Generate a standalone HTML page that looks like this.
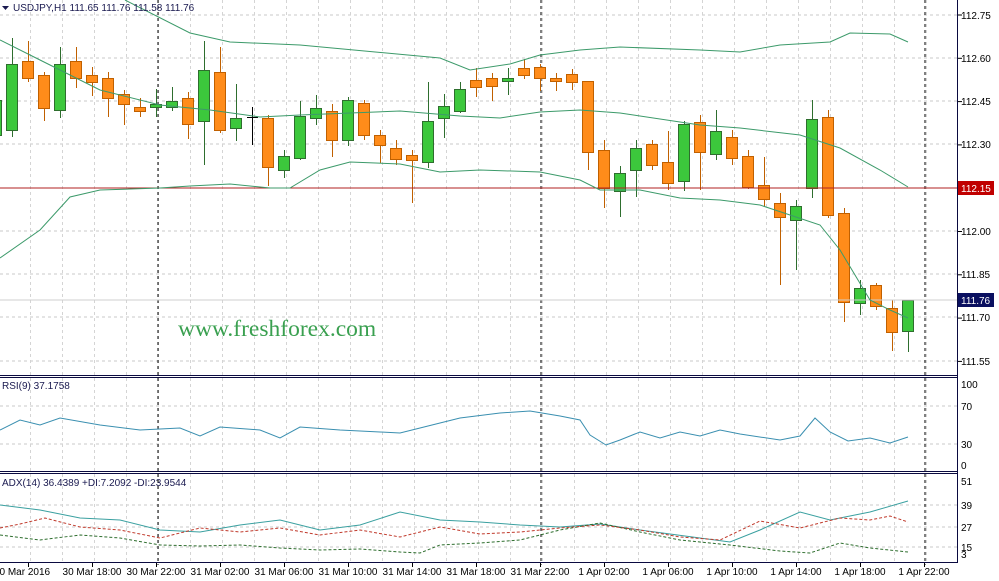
<!DOCTYPE html>
<html><head><meta charset="utf-8"><style>
html,body{margin:0;padding:0;background:#fff;}
svg{display:block;font-family:"Liberation Sans",sans-serif;font-size:10px;}
</style></head><body>
<svg id="s" width="999" height="581" viewBox="0 0 999 581">
<rect width="999" height="581" fill="#fff"/>
<g stroke="#c8c8c8" stroke-dasharray="3,3" stroke-width="1" id="grid">
<line x1="0" y1="58" x2="957" y2="58"/><line x1="0" y1="101" x2="957" y2="101"/><line x1="0" y1="144" x2="957" y2="144"/><line x1="0" y1="231" x2="957" y2="231"/><line x1="0" y1="274" x2="957" y2="274"/><line x1="0" y1="317" x2="957" y2="317"/><line x1="0" y1="361" x2="957" y2="361"/><line x1="0" y1="15" x2="957" y2="15"/>
<line x1="0" y1="406" x2="957" y2="406"/><line x1="0" y1="444" x2="957" y2="444"/>
<line x1="0" y1="505" x2="957" y2="505"/><line x1="0" y1="527" x2="957" y2="527"/><line x1="0" y1="547" x2="957" y2="547"/>
</g>
<g stroke="#d4d4d4" stroke-dasharray="3,3" stroke-width="1" id="vgrid"></g>
<g stroke="#000" stroke-dasharray="3,3" stroke-width="1">
<line x1="158" y1="0" x2="158" y2="565"/><line x1="541" y1="0" x2="541" y2="565"/><line x1="925" y1="0" x2="925" y2="565"/>
</g>
<g id="c"></g>
<line x1="0" y1="188" x2="957" y2="188" stroke="#b22222" stroke-width="1"/>
<line x1="0" y1="300" x2="957" y2="300" stroke="#cfcfcf" stroke-width="1"/>
<g fill="none" stroke="#3c9a6a" stroke-width="1">
<polyline points="125,0 190,33 230,42 300,45 440,58 470,70 510,64 540,55 580,50 620,47 700,50 740,52 780,45 830,42 850,33 890,34 908,42"/>
<polyline points="0,40 40,60 100,90 160,105 210,110 260,117 300,115 400,111 460,116 500,118 540,112 580,110 620,113 700,125 740,128 800,135 840,148 880,170 908,187"/>
<polyline points="0,258 40,230 70,197 100,190 160,188 190,186 230,184 270,188 290,188 320,170 350,162 400,164 440,172 480,170 540,172 580,180 600,190 640,190 680,198 720,200 760,205 790,215 820,225 840,250 870,300 890,310 908,318"/>
</g>
<text x="178" y="336" fill="#3aa050" font-family="Liberation Serif,serif" font-size="23.5">www.freshforex.com</text>
<polyline fill="none" stroke="#3a8fb0" stroke-width="1" points="0,430 20,420 40,425 60,418 100,425 140,430 180,428 200,436 220,427 260,430 280,438 300,427 340,430 380,432 400,433 420,428 460,418 500,413 530,411 560,416 580,420 590,435 606,445 620,440 640,432 660,438 680,432 700,436 720,430 740,434 780,440 800,436 815,418 830,432 848,441 870,438 890,443 908,437"/>
<polyline fill="none" stroke="#3aa0a0" stroke-width="1" points="0,505 40,510 80,518 120,520 160,530 200,532 240,525 280,520 320,530 360,525 400,512 440,520 480,522 520,525 560,527 600,524 640,530 700,538 730,542 760,530 800,512 830,520 870,512 908,501"/>
<polyline fill="none" stroke="#2e6e2e" stroke-dasharray="3,2" stroke-width="1" points="0,535 40,540 80,535 120,538 160,545 200,546 240,545 280,548 320,550 360,549 400,552 420,553 440,545 480,543 520,540 560,530 600,523 640,532 680,540 730,545 780,551 810,553 840,543 870,548 908,552"/>
<polyline fill="none" stroke="#c0392b" stroke-dasharray="3,2" stroke-width="1" points="0,528 20,524 45,518 80,527 120,530 160,538 200,528 240,532 280,528 320,535 360,530 400,537 440,527 480,534 520,532 560,528 600,525 640,530 680,537 720,540 760,521 800,528 840,518 870,520 890,516 908,522"/>
<g stroke="#0a0a40" stroke-width="1" fill="none">
<line x1="957.5" y1="0" x2="957.5" y2="563"/>
<line x1="0" y1="375.5" x2="957" y2="375.5"/><line x1="0" y1="377.5" x2="957" y2="377.5"/>
<line x1="0" y1="471.5" x2="957" y2="471.5"/><line x1="0" y1="473.5" x2="957" y2="473.5"/>
<line x1="0" y1="562.5" x2="957" y2="562.5"/>
</g>
<g stroke="#000" id="ticks"></g>
<rect x="958" y="181" width="36" height="14" fill="#c00000"/>
<rect x="958" y="293" width="36" height="14" fill="#0a1060"/>
<g fill="#000">
<text x="961" y="19">112.75</text><text x="961" y="62">112.60</text><text x="961" y="105">112.45</text><text x="961" y="148">112.30</text>
<text x="961" y="192" fill="#fff">112.15</text><text x="961" y="235">112.00</text><text x="961" y="278">111.85</text>
<text x="961" y="304" fill="#fff">111.76</text><text x="961" y="321">111.70</text><text x="961" y="365">111.55</text>
<text x="961" y="388">100</text><text x="961" y="410">70</text><text x="961" y="448">30</text><text x="961" y="469">0</text>
<text x="961" y="485">51</text><text x="961" y="509">39</text><text x="961" y="531">27</text><text x="961" y="551">15</text><text x="961" y="558">3</text>
</g>
<g fill="#1a1a50">
<path d="M2,6 L9,6 L5.5,10 Z"/>
<text x="13" y="11">USDJPY,H1  111.65 111.76 111.58 111.76</text>
<text x="2" y="389">RSI(9) 37.1758</text>
<text x="2" y="486">ADX(14) 36.4389 +DI:7.2092 -DI:23.9544</text>
</g>
<g fill="#000" font-size="10" text-anchor="middle">
<text x="22" y="575">30 Mar 2016</text><text x="92" y="575">30 Mar 18:00</text><text x="156" y="575">30 Mar 22:00</text>
<text x="220" y="575">31 Mar 02:00</text><text x="284" y="575">31 Mar 06:00</text><text x="348" y="575">31 Mar 10:00</text>
<text x="412" y="575">31 Mar 14:00</text><text x="476" y="575">31 Mar 18:00</text><text x="540" y="575">31 Mar 22:00</text>
<text x="604" y="575">1 Apr 02:00</text><text x="668" y="575">1 Apr 06:00</text><text x="732" y="575">1 Apr 10:00</text>
<text x="796" y="575">1 Apr 14:00</text><text x="860" y="575">1 Apr 18:00</text><text x="924" y="575">1 Apr 22:00</text>
</g>
</svg>
<script>
var d=[[-4,'g',100,135,95,140],[12,'g',64,130,38,137],[28,'o',61,78,41,82],[44,'o',75,108,72,121],[60,'g',64,110,47,118],[76,'o',61,78,47,88],[92,'o',75,82,67,96],[108,'o',78,98,72,117],[124,'o',94,104,90,125],[140,'o',107,111,98,117],[156,'g',104,107,89,117],[172,'g',101,107,87,111],[188,'o',98,124,92,139],[204,'g',70,121,41,165],[220,'o',72,130,47,133],[236,'g',118,128,84,141],[252,'k',117,118,107,145],[268,'o',118,167,115,186],[284,'g',156,170,150,178],[300,'g',116,158,101,160],[316,'g',108,118,95,125],[332,'o',111,140,104,157],[348,'g',100,140,97,146],[364,'o',103,135,100,140],[380,'o',135,145,130,163],[396,'o',148,159,140,165],[412,'o',155,160,150,203],[428,'g',121,162,82,168],[444,'g',106,118,94,138],[460,'g',89,111,82,113],[476,'o',80,87,68,97],[492,'o',78,86,73,101],[508,'g',78,81,68,95],[524,'o',68,75,59,79],[540,'o',67,78,64,91],[556,'o',78,81,73,91],[572,'o',74,82,69,90],[588,'o',81,152,81,170],[604,'o',150,188,140,208],[620,'g',173,191,166,217],[636,'g',148,170,140,197],[652,'o',144,165,140,170],[668,'o',162,183,131,190],[684,'g',124,181,121,191],[700,'o',122,152,115,190],[716,'g',131,154,110,160],[732,'o',137,158,130,165],[748,'o',156,187,150,189],[764,'o',185,199,157,206],[780,'o',203,217,193,285],[796,'g',206,220,200,270],[812,'g',119,188,100,198],[828,'o',117,215,110,218],[844,'o',213,302,208,322],[860,'g',288,303,280,315],[876,'o',285,306,283,310],[892,'o',308,332,300,351],[908,'g',300,331,300,352]];
var h='';
d.forEach(function(c){var x=c[0],col=c[1];
var st=col=='g'?'#2e6e2e':col=='o'?'#c06000':'#000';
var fl=col=='g'?'#3cc83c':col=='o'?'#ff8c1a':'#000';
h+='<line x1="'+(x+.5)+'" y1="'+c[4]+'" x2="'+(x+.5)+'" y2="'+c[5]+'" stroke="'+st+'"/>';
if(col=='k')h+='<line x1="'+(x-5)+'" y1="'+c[2]+'.5" x2="'+(x+6)+'" y2="'+c[2]+'.5" stroke="#000"/>';
else h+='<rect x="'+(x-5.5)+'" y="'+(c[2]+.5)+'" width="11" height="'+Math.max(2,c[3]-c[2])+'" fill="'+fl+'" stroke="'+st+'"/>';});
document.getElementById('c').innerHTML=h;
var t='';for(var x=28;x<957;x+=64){t+='<line x1="'+x+'.5" y1="563" x2="'+x+'.5" y2="567"/>';}
for(var i=0;i<9;i++){var y=15+i*43.3;t+='<line x1="958" y1="'+y+'" x2="962" y2="'+y+'"/>';}
document.getElementById('ticks').innerHTML=t;
var v='';for(var x=30;x<957;x+=32){v+='<line x1="'+x+'.5" y1="0" x2="'+x+'.5" y2="562"/>';}
document.getElementById('vgrid').innerHTML=v;
</script>
</body></html>
